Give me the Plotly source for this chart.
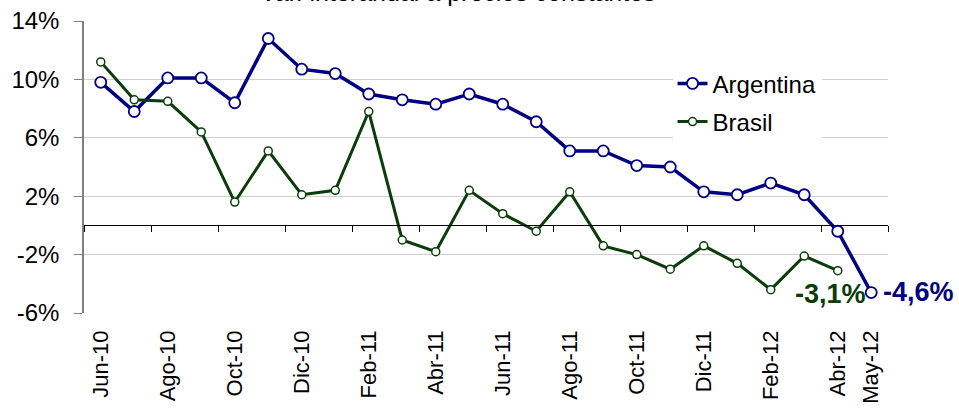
import plotly.graph_objects as go

months = ["Jun-10", "Jul-10", "Ago-10", "Sep-10", "Oct-10", "Nov-10", "Dic-10",
          "Ene-11", "Feb-11", "Mar-11", "Abr-11", "May-11", "Jun-11", "Jul-11",
          "Ago-11", "Sep-11", "Oct-11", "Nov-11", "Dic-11", "Ene-12", "Feb-12",
          "Mar-12", "Abr-12", "May-12"]

argentina = [9.8, 7.8, 10.1, 10.1, 8.4, 12.8, 10.7, 10.4, 9.0, 8.6, 8.3, 9.0,
             8.3, 7.1, 5.1, 5.1, 4.1, 4.0, 2.3, 2.1, 2.9, 2.1, -0.4, -4.6]

brasil = [11.2, 8.6, 8.5, 6.4, 1.6, 5.1, 2.1, 2.4, 7.8, -1.0, -1.8, 2.4,
          0.8, -0.4, 2.3, -1.4, -2.0, -3.0, -1.4, -2.6, -4.4, -2.1, -3.1, None]

label_months = ["Jun-10", "Ago-10", "Oct-10", "Dic-10", "Feb-11", "Abr-11", "Jun-11",
                "Ago-11", "Oct-11", "Dic-11", "Feb-12", "Abr-12", "May-12"]

y_ticks = [-6, -2, 2, 6, 10, 14]
y_tick_labels = ["-6%", "-2%", "2%", "6%", "10%", "14%"]

title_text = "Var. interanual a precios constantes"

NAVY = "#000080"
GREEN = "#0a3d0a"
FONT = "Liberation Sans, Arial, sans-serif"

x_idx = list(range(len(months)))
label_idx = [months.index(m) for m in label_months]
boundaries = [i - 0.5 for i in range(0, len(months) + 1, 2)]

fig = go.Figure()
fig.add_trace(go.Scatter(
    x=x_idx, y=argentina, name="Argentina", mode="lines+markers",
    line=dict(color=NAVY, width=3.5),
    marker=dict(symbol="circle", size=11, color="white", line=dict(color=NAVY, width=1.8)),
    cliponaxis=False, legendgroup="a",
))
fig.add_trace(go.Scatter(
    x=x_idx, y=brasil, name="Brasil", mode="lines+markers",
    line=dict(color=GREEN, width=3),
    marker=dict(symbol="circle", size=8, color="white", line=dict(color=GREEN, width=1.5)),
    cliponaxis=False, legendgroup="b",
))
# invisible helper so the zero-crossing category axis (x2) is drawn
fig.add_trace(go.Scatter(
    x=[boundaries[0]], y=[y_ticks[0]], xaxis="x2", yaxis="y", mode="markers",
    marker=dict(opacity=0), showlegend=False, hoverinfo="skip",
))

last_ar = len(argentina) - 1
last_br = max(i for i, v in enumerate(brasil) if v is not None)

fig.add_annotation(x=x_idx[last_ar] + 0.3, y=argentina[last_ar] + 0.05, xref="x", yref="y",
                   text="-4,6%", showarrow=False, xanchor="left", yanchor="middle",
                   font=dict(family=FONT, size=27, color=NAVY, weight="bold"))
fig.add_annotation(x=x_idx[last_br] + 0.9, y=brasil[last_br] - 1.6, xref="x", yref="y",
                   text="-3,1%", showarrow=False, xanchor="right", yanchor="middle",
                   font=dict(family=FONT, size=27, color=GREEN, weight="bold"))
fig.add_annotation(x=0.465, y=1.043, xref="paper", yref="paper", text=title_text,
                   showarrow=False, xanchor="center", yanchor="bottom",
                   font=dict(family=FONT, size=25, color="#000000"))

fig.update_layout(
    width=959, height=414,
    margin=dict(l=84, r=71, t=21, b=101),
    paper_bgcolor="white", plot_bgcolor="white",
    font=dict(family=FONT, color="#000000"),
    showlegend=True,
    legend=dict(x=0.732, y=0.862, xanchor="left", yanchor="top",
                bgcolor="white", borderwidth=0,
                font=dict(family=FONT, size=24),
                traceorder="grouped", tracegroupgap=4),
    xaxis=dict(range=[-0.5, len(months) - 0.5], tickmode="array",
               tickvals=label_idx, ticktext=label_months, tickangle=-90,
               showgrid=False, zeroline=False, showline=False, ticks="",
               ticklabelstandoff=12, automargin=False,
               tickfont=dict(family=FONT, size=22)),
    xaxis2=dict(overlaying="x", anchor="free", position=0.3, side="bottom",
                range=[-0.5, len(months) - 0.5], tickmode="array",
                tickvals=boundaries, showticklabels=False, ticks="outside",
                ticklen=6, tickcolor="#000000", tickwidth=1,
                showline=True, linecolor="#000000", linewidth=1,
                showgrid=False, zeroline=False, automargin=False),
    yaxis=dict(range=[-6, 14], tickmode="array", tickvals=y_ticks, ticktext=y_tick_labels,
               showgrid=True, gridcolor="#d0d0d0", gridwidth=1,
               zeroline=False, showline=True, linecolor="#808080", linewidth=1.5,
               ticks="outside", ticklen=8, tickcolor="#808080",
               ticklabelstandoff=10, automargin=False,
               tickfont=dict(family=FONT, size=24)),
)

fig.write_html("out.html", config={"displayModeBar": False},
               post_script="document.body.style.margin='0';document.body.style.overflow='hidden';")
